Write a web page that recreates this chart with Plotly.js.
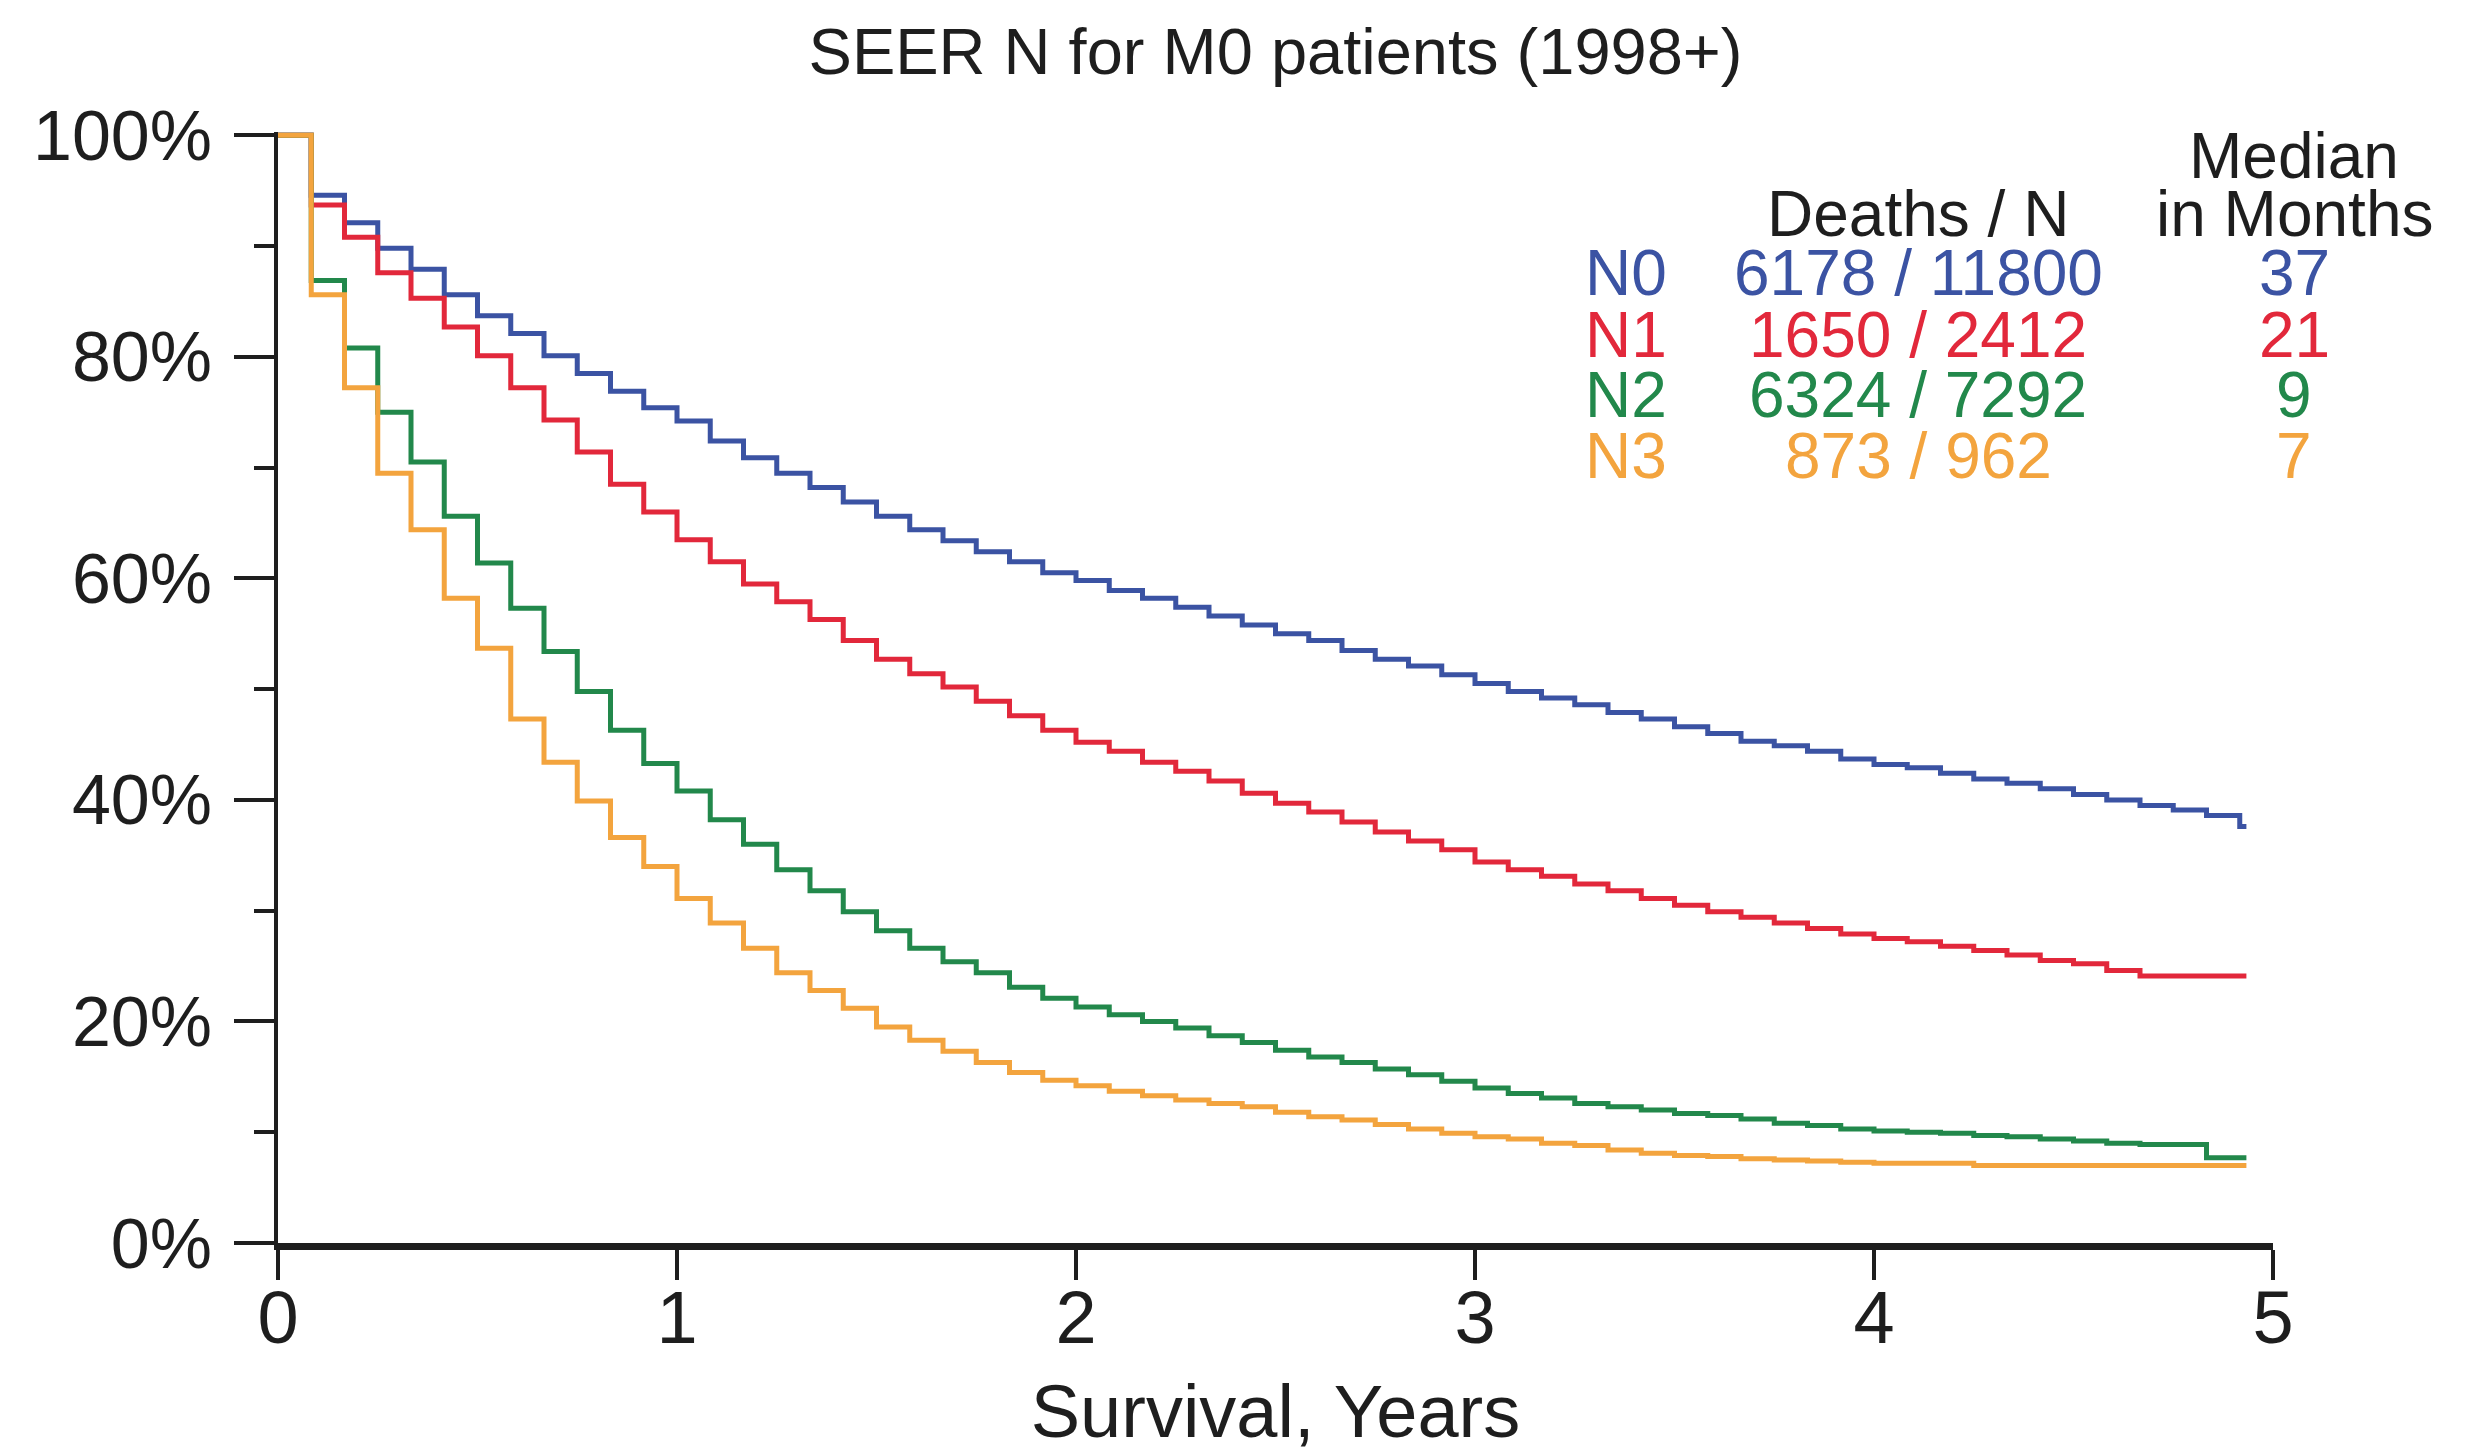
<!DOCTYPE html>
<html>
<head>
<meta charset="utf-8">
<script src="https://cdn.plot.ly/plotly-3.0.1.min.js"></script>
<style>
html,body{margin:0;padding:0;background:#ffffff;}
#chart{width:2489px;height:1453px;}
</style>
</head>
<body>
<div id="chart"></div>
<script>
// ---- data ----
const monthTimes = [0,1,2,3,4,5,6,7,8,9,10,11,12,13,14,15,16,17,18,19,20,21,22,23,24,25,26,27,28,29,
  30,31,32,33,34,35,36,37,38,39,40,41,42,43,44,45,46,47,48,49,50,51,52,53,54,55,56,57,58,59];
const lastFollowUpMonth = 59.2;

const groups = ['N0','N1','N2','N3'];

const survN0 = [100,94.6,92.1,89.8,87.9,85.6,83.7,82.1,80.1,78.5,76.9,75.4,74.2,72.4,70.9,69.5,68.2,66.9,65.6,64.4,
  63.4,62.4,61.5,60.5,59.8,58.9,58.2,57.4,56.6,55.8,55.0,54.4,53.5,52.7,52.1,51.3,50.5,49.8,49.2,48.6,
  47.9,47.3,46.6,46.0,45.3,44.9,44.4,43.7,43.2,42.9,42.4,41.9,41.5,41.0,40.5,40.0,39.5,39.1,38.6,37.6];
const survN1 = [100,93.7,90.8,87.6,85.3,82.7,80.1,77.2,74.3,71.4,68.5,66.0,63.5,61.5,59.5,57.9,56.3,54.4,52.7,51.4,
  50.2,48.9,47.6,46.3,45.2,44.4,43.4,42.6,41.7,40.6,39.7,38.9,38.0,37.1,36.3,35.5,34.4,33.7,33.1,32.4,
  31.8,31.1,30.5,29.9,29.4,28.9,28.4,27.9,27.5,27.2,26.8,26.4,26.0,25.5,25.2,24.6,24.1,24.1,24.1,24.1];
const survN2 = [100,86.9,80.8,75.0,70.5,65.6,61.4,57.3,53.4,49.8,46.3,43.3,40.8,38.2,36.0,33.7,31.8,29.9,28.2,26.6,
  25.4,24.4,23.1,22.1,21.3,20.6,20.0,19.4,18.7,18.1,17.4,16.8,16.3,15.7,15.2,14.6,14.0,13.5,13.1,12.6,
  12.3,12.0,11.7,11.5,11.2,10.8,10.6,10.3,10.1,10.0,9.9,9.7,9.6,9.4,9.2,9.0,8.9,8.9,7.7,7.7];
const survN3 = [100,85.6,77.2,69.5,64.4,58.2,53.7,47.3,43.4,39.9,36.6,34.0,31.1,28.9,26.6,24.4,22.8,21.2,19.5,18.3,
  17.3,16.3,15.4,14.7,14.2,13.7,13.3,12.9,12.6,12.3,11.8,11.4,11.1,10.7,10.3,9.9,9.6,9.4,9.0,8.8,
  8.4,8.1,7.9,7.8,7.6,7.5,7.4,7.3,7.2,7.2,7.2,7.0,7.0,7.0,7.0,7.0,7.0,7.0,7.0,7.0];

const deathsOverN = ['6178 / 11800','1650 / 2412','6324 / 7292','873 / 962'];
const medianMonths = ['37','21','9','7'];

const yTickVals = [0,20,40,60,80,100];
const yTickText = ['0%','20%','40%','60%','80%','100%'];
const xTickVals = [0,1,2,3,4,5];

// ---- styling ----
const colors = ['#3b53a3','#e2283b','#22884b','#f3a43e'];
const FONT = 'Liberation Sans, Arial, Helvetica, sans-serif';
const INK = '#1e1e1e';

const W = 2489, H = 1453;
const M = {l:278, r:216, t:132, b:210};
const plotW = W - M.l - M.r, plotH = H - M.t - M.b;
const px2x = px => (px - M.l) / plotW;
const py2y = py => (H - M.b - py) / plotH;

const series = [survN0, survN1, survN2, survN3];
const xYears = monthTimes.concat([lastFollowUpMonth]).map(m => m / 12);

const traces = series.map((s, i) => ({
  type: 'scatter',
  mode: 'lines',
  name: groups[i],
  x: xYears,
  y: s.concat([s[s.length - 1]]),
  line: {shape: 'hv', color: colors[i], width: 5},
  hoverinfo: 'x+y+name'
}));

const annotations = [];
const rowY = [273, 335, 395, 456];
const legFont = 64;
annotations.push({text:'Median', x:px2x(2294), y:py2y(156)});
annotations.push({text:'in Months', x:px2x(2294), y:py2y(214)});
annotations.push({text:'Deaths / N', x:px2x(1918), y:py2y(214)});
groups.forEach((g, i) => {
  annotations.push({text:g, x:px2x(1583), y:py2y(rowY[i]), xanchor:'left', color:colors[i]});
  annotations.push({text:deathsOverN[i], x:px2x(1918), y:py2y(rowY[i]), color:colors[i]});
  annotations.push({text:medianMonths[i], x:px2x(2294), y:py2y(rowY[i]), color:colors[i]});
});
const annObjs = annotations.map(a => ({
  text: a.text, x: a.x, y: a.y, xref:'paper', yref:'paper',
  xanchor: a.xanchor || 'center', yanchor:'middle', showarrow:false,
  font:{family:FONT, size:legFont, color:a.color || INK}
}));

const layout = {
  width: W, height: H,
  margin: M,
  paper_bgcolor:'#ffffff', plot_bgcolor:'#ffffff',
  showlegend:false,
  title:{text:'SEER N for M0 patients (1998+)', x:0.5, xref:'paper', xanchor:'center',
         y:1 - 51/H, yref:'container', yanchor:'middle',
         font:{family:FONT, size:65, color:INK}},
  xaxis:{
    range:[0,5], tickvals:xTickVals, ticktext:xTickVals.map(String),
    showgrid:false, zeroline:false,
    showline:true, linecolor:INK, linewidth:7,
    ticks:'outside', ticklen:30, tickwidth:4, tickcolor:INK,
    tickfont:{family:FONT, size:74, color:INK},
    ticklabelstandoff:-26,
    title:{text:'Survival, Years', font:{family:FONT, size:74, color:INK}, standoff:70},
    automargin:false, fixedrange:true
  },
  yaxis:{
    range:[0,100.3], tickvals:yTickVals, ticktext:yTickText,
    showgrid:false, zeroline:false,
    showline:true, linecolor:INK, linewidth:4,
    ticks:'outside', ticklen:40, tickwidth:4, tickcolor:INK,
    minor:{tickvals:[10,30,50,70,90], ticks:'outside', ticklen:20, tickwidth:4, tickcolor:INK},
    tickfont:{family:FONT, size:70, color:INK},
    ticklabelstandoff:8,
    automargin:false, fixedrange:true
  },
  annotations: annObjs
};

Plotly.newPlot('chart', traces, layout, {staticPlot:true, displayModeBar:false});
</script>
</body>
</html>
